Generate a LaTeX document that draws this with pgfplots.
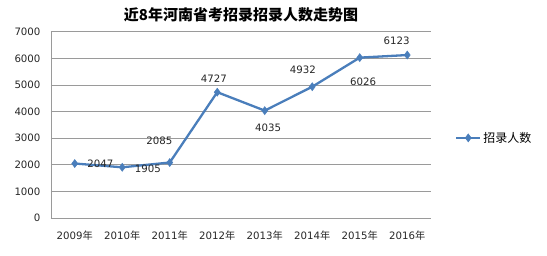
\documentclass[border=0pt]{standalone}
\usepackage{pgfplots}
\pgfplotsset{compat=1.18}
\usepackage{pgfplotstable}
\usepackage{fontspec}
\setmainfont{DejaVu Sans}
\newfontfamily\cjk{Noto Sans CJK SC}
\definecolor{lineblue}{HTML}{4A7EBB}
\definecolor{gridgray}{HTML}{9A9A9A}
\pgfplotstableread{
x y dx dy
0 2047 25.7 0
1 1905 25.6 -1.3
2 2085 -10.3 21.6
3 4727 -3.4 13.7
4 4035 3.4 -17
5 4932 -9.4 16.6
6 6026 3.4 -24
7 6123 -10.7 14
}\datatable
\begin{document}
\begin{tikzpicture}
\path[use as bounding box] (0pt,0pt) rectangle (547pt,256pt);
\node[font=\fontsize{15}{17}\selectfont\cjk\bfseries] at (241pt,241pt) {近8年河南省考招录招录人数走势图};
\begin{axis}[
  at={(51pt,38pt)}, anchor=south west,
  scale only axis, width=380pt, height=186.3pt,
  xmin=-0.5, xmax=7.5, ymin=0, ymax=7000,
  axis x line*=bottom, axis y line*=left,
  axis line style={gridgray, -},
  xtick={0,...,7},
  xticklabels={2009{\cjk 年},2010{\cjk 年},2011{\cjk 年},2012{\cjk 年},2013{\cjk 年},2014{\cjk 年},2015{\cjk 年},2016{\cjk 年}},
  ytick={0,1000,...,7000},
  ymajorgrids, grid style={gridgray, line width=0.6pt},
  major tick length=0pt,
  tick style={draw=none},
  /pgf/number format/assume math mode=true,
  /pgf/number format/1000 sep={},
  ticklabel style={font=\fontsize{10.2}{12}\selectfont, text=black!85},
  xticklabel style={yshift=-9pt},
  yticklabel style={xshift=-7pt},
  legend style={at={(1.055,0.43)}, anchor=west, draw=none, fill=none, font=\fontsize{12}{14}\selectfont\cjk},
  legend image code/.code={\draw[#1, mark repeat=2, mark phase=2] plot coordinates {(0pt,0pt) (12pt,0pt) (24pt,0pt)};},
  clip=false,
]
\addplot[lineblue, line width=2.3pt, mark=diamond*, mark size=4pt, mark options={fill=lineblue, line width=0.5pt},
  nodes near coords,
  point meta=explicit,
  visualization depends on={\thisrow{dx} \as \dx},
  visualization depends on={\thisrow{dy} \as \dy},
  every node near coord/.append style={anchor=center, xshift=\dx pt, yshift=\dy pt, font=\fontsize{10.2}{12}\selectfont, text=black!85, /pgf/number format/assume math mode=true, /pgf/number format/1000 sep={}},
] table[x=x, y=y, meta=y] {\datatable};
\addlegendentry{招录人数}
\end{axis}
\end{tikzpicture}
\end{document}
